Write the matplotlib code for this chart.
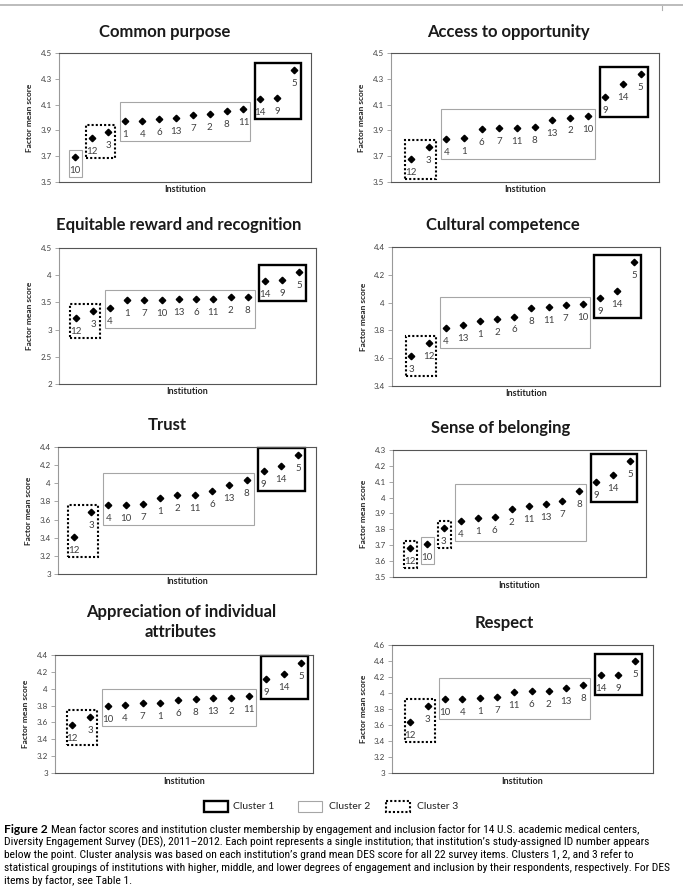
import matplotlib
matplotlib.use("Agg")
import matplotlib.pyplot as plt
from matplotlib import font_manager
from matplotlib.patches import Rectangle
import numpy as np

plt.rcParams['font.family'] = ['Lato', 'DejaVu Sans']

W, H = 683, 894

# appartenenza ai cluster per ID istituzione (gli altri sono cluster 2)
cluster_1 = [5, 9, 14]
cluster_3 = [3, 12]

titles = ["Common purpose", "Access to opportunity", "Equitable reward and recognition",
          "Cultural competence", "Trust", "Sense of belonging",
          "Appreciation of individual\nattributes", "Respect"]

# ID ordinati per punteggio e relativi valori medi
cp_ids = [10, 12, 3, 1, 4, 6, 13, 7, 2, 8, 11, 14, 9, 5]
cp_vals = [3.69, 3.84, 3.89, 3.97, 3.97, 3.99, 3.995, 4.02, 4.03, 4.05, 4.065, 4.14, 4.15, 4.365]

ao_ids = [12, 3, 4, 1, 6, 7, 11, 8, 13, 2, 10, 9, 14, 5]
ao_vals = [3.68, 3.77, 3.83, 3.84, 3.91, 3.92, 3.92, 3.93, 3.98, 4.00, 4.01, 4.16, 4.26, 4.34]

er_ids = [12, 3, 4, 1, 7, 10, 13, 6, 11, 2, 8, 14, 9, 5]
er_vals = [3.21, 3.345, 3.39, 3.54, 3.55, 3.55, 3.56, 3.57, 3.57, 3.60, 3.60, 3.90, 3.92, 4.05]

cc_ids = [3, 12, 4, 13, 1, 2, 6, 8, 11, 7, 10, 9, 14, 5]
cc_vals = [3.615, 3.71, 3.82, 3.84, 3.87, 3.88, 3.90, 3.96, 3.97, 3.98, 3.99, 4.03, 4.08, 4.29]

tr_ids = [12, 3, 4, 10, 7, 1, 2, 11, 6, 13, 8, 9, 14, 5]
tr_vals = [3.41, 3.68, 3.76, 3.76, 3.77, 3.84, 3.87, 3.87, 3.92, 3.98, 4.04, 4.13, 4.19, 4.31]

sb_ids = [12, 10, 3, 4, 1, 6, 2, 11, 13, 7, 8, 9, 14, 5]
sb_vals = [3.68, 3.71, 3.81, 3.85, 3.87, 3.875, 3.93, 3.95, 3.96, 3.98, 4.04, 4.10, 4.145, 4.23]

ai_ids = [12, 3, 10, 4, 7, 1, 6, 8, 13, 2, 11, 9, 14, 5]
ai_vals = [3.57, 3.67, 3.795, 3.81, 3.83, 3.835, 3.87, 3.88, 3.89, 3.89, 3.91, 4.11, 4.17, 4.31]

re_ids = [12, 3, 10, 4, 1, 7, 11, 6, 2, 13, 8, 14, 9, 5]
re_vals = [3.64, 3.84, 3.92, 3.93, 3.94, 3.95, 4.01, 4.03, 4.03, 4.06, 4.10, 4.22, 4.22, 4.40]

# asse y: (min, max, passo)
y_axes = [(3.5, 4.5, 0.2), (3.5, 4.5, 0.2), (2, 4.5, 0.5), (3.4, 4.4, 0.2),
          (3.0, 4.4, 0.2), (3.5, 4.3, 0.1), (3.0, 4.4, 0.2), (3.0, 4.6, 0.2)]

panel_data = [(cp_ids, cp_vals), (ao_ids, ao_vals), (er_ids, er_vals), (cc_ids, cc_vals),
              (tr_ids, tr_vals), (sb_ids, sb_vals), (ai_ids, ai_vals), (re_ids, re_vals)]

# layout in pixel: sinistra, destra, alto, basso, xlim
layout = [
    (59, 311, 53, 182, (0.07, 15.0)),
    (391, 659, 53, 182, (-0.13, 15.04)),
    (59, 316, 248, 384, (0.03, 14.97)),
    (392, 660, 247, 386, (-0.13, 15.5)),
    (58, 316, 447, 574, (0.09, 15.02)),
    (393, 646, 450, 577, (0.0, 14.93)),
    (55, 313, 655, 773, (0.02, 14.66)),
    (392, 653, 645, 773, (-0.06, 15.02)),
]
title_pos = [(165, 32), (508, 32), (179, 225), (503, 225), (167, 425), (501, 428), (181, 622), (504, 623)]

box_style = {
    1: dict(edgecolor='black', linewidth=1.7, linestyle='-'),
    2: dict(edgecolor='#a6a6a6', linewidth=0.8, linestyle='-'),
    3: dict(edgecolor='black', linewidth=1.5, linestyle=(0, (1, 1))),
}
# margini dei riquadri in pixel: sinistra, destra, sotto, sopra
pad_l, pad_r, pad_b, pad_t = 5.5, 7, 20, 7


def cluster_of(i):
    if i in cluster_1:
        return 1
    if i in cluster_3:
        return 3
    return 2


def pick_font(names):
    # primo font installato della lista
    for n in names:
        try:
            font_manager.findfont(n, fallback_to_default=False)
            return n
        except ValueError:
            pass
    return 'DejaVu Sans'


fig = plt.figure(figsize=(W / 100, H / 100), dpi=100)
ov = fig.add_axes([0, 0, 1, 1])
ov.set_xlim(0, W)
ov.set_ylim(H, 0)
ov.axis('off')

for k, ((ids, vals), (ymin, ymax, step), (l, r, t, b, xl)) in enumerate(zip(panel_data, y_axes, layout)):
    ax = fig.add_axes([l / W, 1 - b / H, (r - l) / W, (b - t) / H])
    x = np.arange(1, len(ids) + 1)
    ax.plot(x, vals, linestyle='none', marker='D', markersize=3.3, color='black', zorder=3)
    for xi, vi, idx in zip(x, vals, ids):
        ax.annotate(str(idx), (xi, vi), xytext=(0, -9.7), textcoords='offset points',
                    ha='center', va='center', fontsize=7, color='#404040')
    ax.set_xlim(*xl)
    ax.set_ylim(ymin, ymax)
    ticks = np.arange(ymin, ymax + step / 2, step)
    ax.set_yticks(ticks)
    ax.set_yticklabels([f"{round(v, 2):g}" for v in ticks])
    ax.set_xticks([])
    ax.tick_params(axis='y', direction='out', length=3, width=0.6, color='#999999',
                   labelsize=5.8, labelcolor='#404040', pad=2)
    for side, sp in ax.spines.items():
        sp.set_linewidth(0.8)
        sp.set_color('#999999' if side == 'left' else '#555555')

    # riquadri dei cluster: gruppi contigui dello stesso cluster
    dx = (xl[1] - xl[0]) / (r - l)
    dy = (ymax - ymin) / (b - t)
    cl = [cluster_of(i) for i in ids]
    start = 0
    for j in range(1, len(ids) + 1):
        if j == len(ids) or cl[j] != cl[start]:
            gx = x[start:j]
            gv = vals[start:j]
            x0 = gx[0] - pad_l * dx
            x1 = gx[-1] + pad_r * dx
            y0 = min(gv) - pad_b * dy
            y1 = max(gv) + pad_t * dy
            ax.add_patch(Rectangle((x0, y0), x1 - x0, y1 - y0, fill=False,
                                   clip_on=False, zorder=2, **box_style[cl[start]]))
            start = j

    ov.text(l - 29, (t + b) / 2, "Factor mean score", rotation=90, ha='center', va='center',
            fontsize=6, fontweight='bold', color='#222222')
    ov.text((l + r) / 2, b + 8, "Institution", ha='center', va='center',
            fontsize=6.5, fontweight='bold', color='#222222')
    tx, ty = title_pos[k]
    ov.text(tx, ty, titles[k], ha='center', va='center', fontsize=12, fontweight='bold',
            color='#1a1a1a', linespacing=1.3)

# linea grigia in alto
ov.plot([0, W], [4.5, 4.5], color='#b0b0b0', linewidth=1.2)
ov.plot([662, 662], [6, 10], color='#b0b0b0', linewidth=0.8)

# legenda
legend_items = [("Cluster 1", 1, 204, 233), ("Cluster 2", 2, 298, 329), ("Cluster 3", 3, 386, 417)]
for lab, c, bx, txx in legend_items:
    ov.add_patch(Rectangle((bx, 801), 24, 11, fill=False, **box_style[c]))
    ov.text(txx, 806.5, lab, ha='left', va='center', fontsize=7.5, color='#222222')

# didascalia
cap_font = [pick_font(['Liberation Sans Narrow', 'DejaVu Sans Condensed', 'Roboto Condensed', 'Roboto']),
            'DejaVu Sans']
cap_lines = [
    "Mean factor scores and institution cluster membership by engagement and inclusion factor for 14\u00a0U.S. academic medical centers,",
    "Diversity Engagement Survey (DES), 2011\u20132012. Each point represents a single institution; that institution\u2019s study-assigned ID number appears",
    "below the point. Cluster analysis was based on each institution\u2019s grand mean DES score for all 22 survey items. Clusters 1, 2, and 3 refer to",
    "statistical groupings of institutions with higher, middle, and lower degrees of engagement and inclusion by their respondents, respectively. For DES",
    "items by factor, see Table 1.",
]
cap_y = [829.5, 842.2, 854.9, 867.6, 880.3]
renderer = fig.canvas.get_renderer()

# dimensione scelta perche' la riga 4 arrivi a x ~672
probe = ov.text(4, cap_y[3], cap_lines[3], fontsize=7, family=cap_font)
cap_size = 7 * 668 / probe.get_window_extent(renderer=renderer).width
probe.remove()

# "Figure 2" in grassetto largo (non condensato), stessa altezza del testo
fig_lab = ov.text(4, cap_y[0], "Figure 2", ha='left', va='center', fontsize=cap_size * 1.05,
                  fontweight='bold', family=['Lato', 'DejaVu Sans'], color='black')
bb = fig_lab.get_window_extent(renderer=renderer)
for i, (line, yy) in enumerate(zip(cap_lines, cap_y)):
    x0 = 4 + bb.width + 3 if i == 0 else 4
    ov.text(x0, yy, line, ha='left', va='center', fontsize=cap_size, family=cap_font, color='black')

fig.savefig("out.png", dpi=100)
